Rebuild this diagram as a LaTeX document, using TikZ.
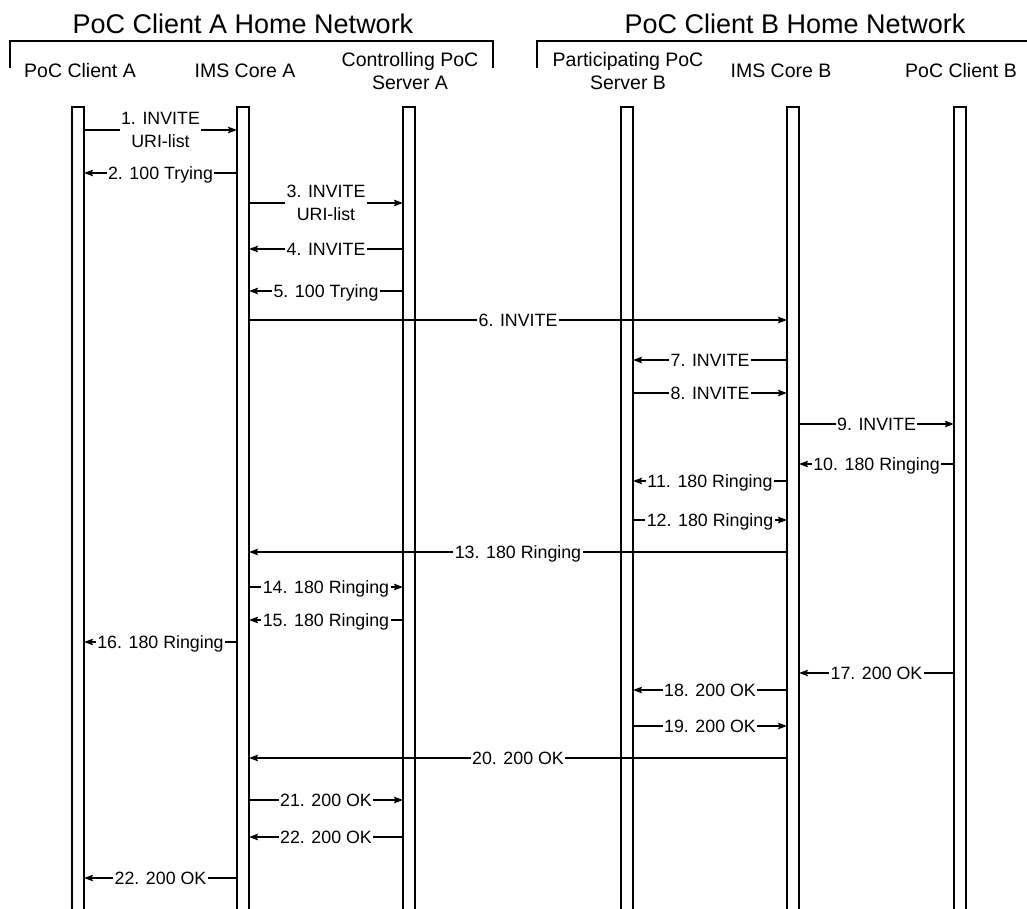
\documentclass[tikz,border=0pt]{standalone}
\usepackage{fontspec}
\setmainfont{Liberation Sans}
\usetikzlibrary{arrows.meta,calc}
\begin{document}
\begin{tikzpicture}[x=1pt,y=-1pt,
  lifebar/.style={line width=1.4pt},
  msg/.style={line width=1.3pt,-{Stealth[length=9pt,width=6.5pt,inset=1.5pt]}},
  lbl/.style={fill=white,inner xsep=1.5pt,inner ysep=0pt,text height=12.7pt,text depth=0pt,font=\fontsize{17.8}{23}\selectfont},
  lbltwo/.style={fill=white,inner xsep=1.5pt,inner ysep=0pt,align=center,font=\fontsize{17.8}{23}\selectfont},
  title/.style={font=\fontsize{27}{30}\selectfont},
  actor/.style={font=\fontsize{19.5}{23}\selectfont,align=center},
  bracket/.style={line width=1.5pt}]
\useasboundingbox (0,0) rectangle (1027,909);

% network titles and brackets
\node[title] (TA) at (243,24) {PoC Client A Home Network};
\node[title] (TB) at (795,24) {PoC Client B Home Network};
\draw[bracket] (10,68) |- (493,41) -- (493,68);
\draw[bracket] (537,68) |- (1030,41);

% actor labels
\node[actor,anchor=base] (LCA) at (80,78) {PoC Client A};
\node[actor,anchor=base] (LIA) at (245,78) {IMS Core A};
\node[actor] (LSA) at (410,71.5) {Controlling PoC\\Server A};
\node[actor] (LSB) at (628,71.5) {Participating PoC\\Server B};
\node[actor,anchor=base] (LIB) at (781,78) {IMS Core B};
\node[actor,anchor=base] (LCB) at (961,78) {PoC Client B};

% lifeline centres
\coordinate (CA) at (78,0);
\coordinate (IA) at (243,0);
\coordinate (SA) at (409,0);
\coordinate (SB) at (627,0);
\coordinate (IB) at (793,0);
\coordinate (CB) at (960,0);
\foreach \c in {CA,IA,SA,SB,IB,CB}{
  \draw[lifebar] ($(\c)+(-6,912)$) |- ($(\c)+(6,107)$) -- ($(\c)+(6,912)$);
}
% lifeline edges
\coordinate (CAr) at ($(CA)+(6,0)$);
\coordinate (IAl) at ($(IA)+(-6,0)$);
\coordinate (IAr) at ($(IA)+(6,0)$);
\coordinate (SAl) at ($(SA)+(-6,0)$);
\coordinate (SAr) at ($(SA)+(6,0)$);
\coordinate (SBl) at ($(SB)+(-6,0)$);
\coordinate (SBr) at ($(SB)+(6,0)$);
\coordinate (IBl) at ($(IB)+(-6,0)$);
\coordinate (IBr) at ($(IB)+(6,0)$);
\coordinate (CBl) at ($(CB)+(-6,0)$);

\newcommand\mymsg[4]{\draw[msg] ($(#1)+(0,#3)$) -- node[lbl]{#4} ($(#2)+(0,#3)$);}

\draw[msg] ($(CAr)+(0,130)$) -- node[lbltwo]{1. INVITE\\URI-list} ($(IAl)+(0,130)$);
\mymsg{IAl}{CAr}{173}{2. 100 Trying}
\draw[msg] ($(IAr)+(0,203)$) -- node[lbltwo]{3. INVITE\\URI-list} ($(SAl)+(0,203)$);
\mymsg{SAl}{IAr}{249}{4. INVITE}
\mymsg{SAl}{IAr}{291}{5. 100 Trying}
\mymsg{IAr}{IBl}{320}{6. INVITE}
\mymsg{IBl}{SBr}{360}{7. INVITE}
\mymsg{SBr}{IBl}{393}{8. INVITE}
\mymsg{IBr}{CBl}{424}{9. INVITE}
\mymsg{CBl}{IBr}{464}{10. 180 Ringing}
\mymsg{IBl}{SBr}{481}{11. 180 Ringing}
\mymsg{SBr}{IBl}{520}{12. 180 Ringing}
\mymsg{IBl}{IAr}{552}{13. 180 Ringing}
\mymsg{IAr}{SAl}{587}{14. 180 Ringing}
\mymsg{SAl}{IAr}{620}{15. 180 Ringing}
\mymsg{IAl}{CAr}{642}{16. 180 Ringing}
\mymsg{CBl}{IBr}{673}{17. 200 OK}
\mymsg{IBl}{SBr}{690}{18. 200 OK}
\mymsg{SBr}{IBl}{726}{19. 200 OK}
\mymsg{IBl}{IAr}{758}{20. 200 OK}
\mymsg{IAr}{SAl}{800}{21. 200 OK}
\mymsg{SAl}{IAr}{837}{22. 200 OK}
\mymsg{IAl}{CAr}{878}{22. 200 OK}
\end{tikzpicture}
\end{document}
